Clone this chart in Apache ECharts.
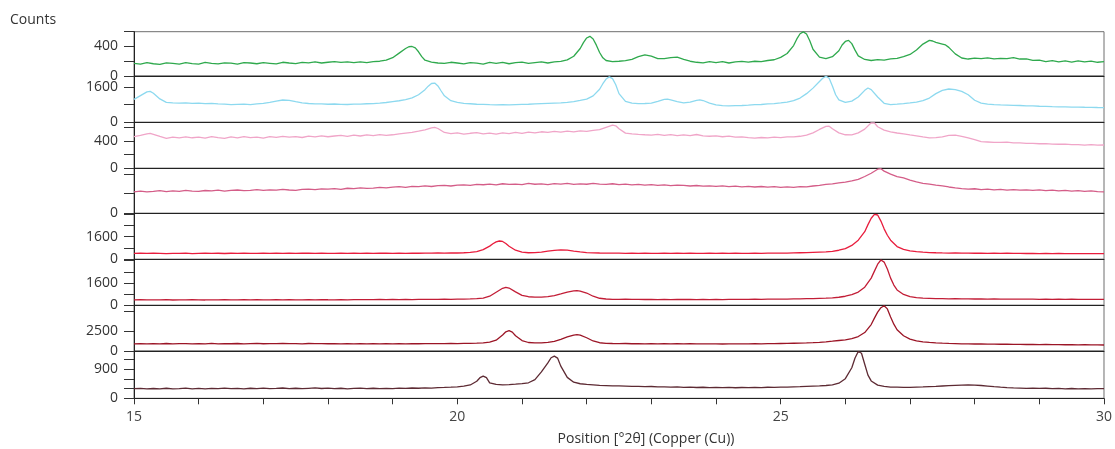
<!DOCTYPE html>
<html>
<head>
<meta charset="utf-8">
<script src="https://cdn.jsdelivr.net/npm/echarts@6/dist/echarts.min.js"></script>
<style>
  html, body { margin: 0; padding: 0; background: #fff; }
  #chart { width: 1115px; height: 449px; }
</style>
</head>
<body>
<div id="chart"></div>
<script>
// Stacked XRD patterns, Position [°2θ] vs Counts, one panel per scan (top to bottom).

const scanA = [[15.0,172],[15.1,160],[15.2,182],[15.3,166],[15.4,158],[15.5,178],[15.6,170],[15.7,162],[15.8,180],[15.9,168],[16.0,160],[16.1,184],[16.2,172],[16.3,164],[16.4,178],[16.5,174],[16.6,160],[16.7,182],[16.8,176],[16.9,166],[17.0,180],[17.1,172],[17.2,164],[17.3,186],[17.4,176],[17.5,168],[17.6,184],[17.7,178],[17.8,190],[17.9,176],[18.0,186],[18.1,196],[18.2,184],[18.3,192],[18.4,180],[18.5,192],[18.6,182],[18.7,194],[18.8,200],[18.9,216],[19.0,248],[19.1,310],[19.2,372],[19.25,396],[19.3,400],[19.35,380],[19.4,328],[19.45,262],[19.5,214],[19.6,188],[19.7,176],[19.8,170],[19.9,186],[20.0,176],[20.1,164],[20.2,182],[20.3,174],[20.4,162],[20.5,184],[20.6,172],[20.7,186],[20.8,166],[20.9,180],[21.0,188],[21.1,170],[21.2,182],[21.3,190],[21.4,176],[21.5,190],[21.6,198],[21.7,218],[21.8,268],[21.9,372],[21.95,452],[22.0,515],[22.05,537],[22.1,502],[22.15,418],[22.2,318],[22.25,246],[22.3,210],[22.4,194],[22.5,200],[22.6,208],[22.7,226],[22.8,262],[22.9,286],[23.0,268],[23.1,236],[23.2,234],[23.3,250],[23.4,255],[23.5,226],[23.6,200],[23.7,186],[23.8,178],[23.9,196],[24.0,182],[24.1,194],[24.2,176],[24.3,190],[24.4,198],[24.5,188],[24.6,200],[24.7,194],[24.8,210],[24.9,220],[25.0,252],[25.1,305],[25.2,412],[25.25,502],[25.3,572],[25.35,598],[25.4,568],[25.45,478],[25.5,362],[25.6,256],[25.7,236],[25.8,262],[25.9,342],[25.95,420],[26.0,468],[26.05,482],[26.1,438],[26.15,350],[26.2,272],[26.3,224],[26.4,210],[26.5,222],[26.6,214],[26.7,232],[26.8,240],[26.9,264],[27.0,292],[27.1,352],[27.2,432],[27.3,482],[27.35,474],[27.4,456],[27.5,432],[27.55,420],[27.6,388],[27.7,300],[27.8,244],[27.9,230],[28.0,242],[28.1,234],[28.2,246],[28.3,232],[28.4,240],[28.5,234],[28.6,250],[28.7,230],[28.8,232],[28.9,212],[29.0,214],[29.1,194],[29.2,208],[29.3,190],[29.4,204],[29.5,188],[29.6,206],[29.7,190],[29.8,202],[29.9,186],[30.0,196]];

const scanB = [[15.0,1040],[15.1,1210],[15.2,1380],[15.25,1400],[15.3,1320],[15.4,1060],[15.5,905],[15.6,878],[15.7,866],[15.8,884],[15.9,858],[16.0,872],[16.1,850],[16.2,862],[16.3,838],[16.4,826],[16.5,800],[16.6,812],[16.7,822],[16.8,806],[16.9,832],[17.0,855],[17.1,905],[17.2,962],[17.3,1012],[17.4,998],[17.5,938],[17.6,882],[17.7,852],[17.8,838],[17.9,832],[18.0,818],[18.1,830],[18.2,816],[18.3,808],[18.4,822],[18.5,828],[18.6,842],[18.7,848],[18.8,872],[18.9,898],[19.0,942],[19.1,978],[19.2,1030],[19.3,1105],[19.4,1250],[19.5,1480],[19.55,1640],[19.6,1760],[19.65,1780],[19.7,1650],[19.75,1420],[19.8,1200],[19.9,982],[20.0,902],[20.1,858],[20.2,842],[20.3,818],[20.4,812],[20.5,798],[20.6,788],[20.7,802],[20.8,786],[20.9,800],[21.0,812],[21.1,818],[21.2,834],[21.3,848],[21.4,862],[21.5,872],[21.6,878],[21.7,902],[21.8,938],[21.9,992],[22.0,1050],[22.1,1200],[22.2,1500],[22.25,1750],[22.3,1960],[22.35,2060],[22.4,1980],[22.45,1700],[22.5,1300],[22.6,950],[22.7,872],[22.8,848],[22.9,852],[23.0,872],[23.1,952],[23.2,1040],[23.25,1050],[23.3,1018],[23.4,942],[23.5,880],[23.6,918],[23.7,998],[23.75,1020],[23.8,988],[23.9,872],[24.0,792],[24.1,752],[24.2,742],[24.3,752],[24.4,762],[24.5,778],[24.6,802],[24.7,808],[24.8,832],[24.9,848],[25.0,882],[25.1,918],[25.2,982],[25.3,1100],[25.4,1300],[25.5,1550],[25.6,1850],[25.65,2000],[25.7,2080],[25.75,2000],[25.8,1650],[25.85,1250],[25.9,1020],[26.0,900],[26.1,962],[26.2,1150],[26.3,1450],[26.35,1555],[26.4,1480],[26.5,1150],[26.6,862],[26.7,802],[26.8,822],[26.9,848],[27.0,882],[27.1,918],[27.2,982],[27.3,1100],[27.4,1300],[27.5,1450],[27.6,1510],[27.7,1480],[27.8,1400],[27.9,1250],[28.0,1000],[28.1,872],[28.2,828],[28.3,802],[28.4,788],[28.5,782],[28.6,768],[28.7,762],[28.8,748],[28.9,742],[29.0,728],[29.1,722],[29.2,708],[29.3,702],[29.4,698],[29.5,692],[29.6,688],[29.7,682],[29.8,678],[29.9,672],[30.0,668]];

const scanC = [[15.0,465],[15.1,482],[15.2,505],[15.25,513],[15.3,498],[15.4,468],[15.5,440],[15.6,458],[15.7,446],[15.8,462],[15.9,448],[16.0,457],[16.1,443],[16.2,466],[16.3,451],[16.4,438],[16.5,460],[16.6,446],[16.7,465],[16.8,449],[16.9,458],[17.0,442],[17.1,464],[17.2,453],[17.3,470],[17.4,456],[17.5,466],[17.6,452],[17.7,472],[17.8,460],[17.9,477],[18.0,463],[18.1,474],[18.2,482],[18.3,468],[18.4,487],[18.5,474],[18.6,492],[18.7,478],[18.8,495],[18.9,483],[19.0,492],[19.1,504],[19.2,516],[19.3,528],[19.4,546],[19.5,565],[19.6,594],[19.65,600],[19.7,584],[19.8,526],[19.9,508],[20.0,520],[20.1,503],[20.2,514],[20.3,522],[20.4,506],[20.5,516],[20.6,503],[20.7,520],[20.8,510],[20.9,527],[21.0,513],[21.1,532],[21.2,520],[21.3,536],[21.4,528],[21.5,542],[21.6,530],[21.7,546],[21.8,536],[21.9,550],[22.0,543],[22.1,556],[22.2,566],[22.3,602],[22.4,634],[22.45,624],[22.5,580],[22.6,516],[22.7,505],[22.8,498],[22.9,492],[23.0,488],[23.1,497],[23.2,483],[23.3,494],[23.4,481],[23.5,492],[23.6,480],[23.7,496],[23.8,476],[23.9,470],[24.0,477],[24.1,463],[24.2,472],[24.3,458],[24.4,460],[24.5,450],[24.6,444],[24.7,452],[24.8,446],[24.9,456],[25.0,450],[25.1,460],[25.2,461],[25.3,470],[25.4,486],[25.5,520],[25.6,570],[25.7,615],[25.75,618],[25.8,580],[25.9,520],[26.0,492],[26.1,490],[26.2,520],[26.3,575],[26.4,668],[26.45,665],[26.5,610],[26.6,560],[26.7,535],[26.8,518],[26.9,505],[27.0,490],[27.1,476],[27.2,460],[27.3,446],[27.4,450],[27.5,461],[27.6,482],[27.7,488],[27.8,470],[27.9,446],[28.0,420],[28.1,392],[28.2,386],[28.3,379],[28.4,380],[28.5,383],[28.6,374],[28.7,373],[28.8,366],[28.9,366],[29.0,360],[29.1,361],[29.2,354],[29.3,353],[29.4,356],[29.5,346],[29.6,346],[29.7,340],[29.8,347],[29.9,339],[30.0,342]];

const scanD = [[15.0,440],[15.1,452],[15.2,436],[15.3,448],[15.4,462],[15.5,445],[15.6,458],[15.7,450],[15.8,468],[15.9,455],[16.0,447],[16.1,466],[16.2,459],[16.3,472],[16.4,454],[16.5,468],[16.6,476],[16.7,462],[16.8,470],[16.9,484],[17.0,468],[17.1,480],[17.2,472],[17.3,490],[17.4,476],[17.5,470],[17.6,488],[17.7,495],[17.8,482],[17.9,500],[18.0,494],[18.1,506],[18.2,490],[18.3,512],[18.4,503],[18.5,520],[18.6,508],[18.7,515],[18.8,530],[18.9,518],[19.0,534],[19.1,544],[19.2,530],[19.3,552],[19.4,546],[19.5,560],[19.6,548],[19.7,566],[19.8,572],[19.9,558],[20.0,576],[20.1,582],[20.2,570],[20.3,590],[20.4,584],[20.5,596],[20.6,580],[20.7,604],[20.8,592],[20.9,598],[21.0,586],[21.1,610],[21.2,594],[21.3,602],[21.4,588],[21.5,606],[21.6,598],[21.7,612],[21.8,590],[21.9,600],[22.0,594],[22.1,610],[22.2,598],[22.3,592],[22.4,604],[22.5,588],[22.6,596],[22.7,582],[22.8,590],[22.9,578],[23.0,586],[23.1,572],[23.2,580],[23.3,566],[23.4,576],[23.5,570],[23.6,558],[23.7,568],[23.8,556],[23.9,562],[24.0,550],[24.1,560],[24.2,546],[24.3,555],[24.4,542],[24.5,552],[24.6,538],[24.7,548],[24.8,535],[24.9,544],[25.0,530],[25.1,542],[25.2,532],[25.3,546],[25.4,540],[25.5,558],[25.6,572],[25.7,590],[25.8,602],[25.9,622],[26.0,638],[26.1,662],[26.2,693],[26.3,752],[26.4,818],[26.5,902],[26.55,912],[26.6,862],[26.7,802],[26.8,752],[26.9,722],[27.0,678],[27.1,642],[27.2,613],[27.3,597],[27.4,578],[27.5,562],[27.6,538],[27.7,518],[27.8,505],[27.9,496],[28.0,502],[28.1,486],[28.2,494],[28.3,480],[28.4,490],[28.5,474],[28.6,486],[28.7,472],[28.8,480],[28.9,468],[29.0,478],[29.1,462],[29.2,474],[29.3,458],[29.4,468],[29.5,455],[29.6,464],[29.7,450],[29.8,458],[29.9,444],[30.0,440]];

const scanE = [[15.0,420],[15.1,432],[15.2,412],[15.3,428],[15.4,418],[15.5,402],[15.6,424],[15.7,414],[15.8,430],[15.9,408],[16.0,422],[16.1,436],[16.2,416],[16.3,426],[16.4,410],[16.5,428],[16.6,420],[16.7,434],[16.8,415],[16.9,425],[17.0,438],[17.1,418],[17.2,430],[17.3,422],[17.4,436],[17.5,416],[17.6,428],[17.7,434],[17.8,420],[17.9,432],[18.0,424],[18.1,414],[18.2,430],[18.3,422],[18.4,436],[18.5,418],[18.6,428],[18.7,420],[18.8,434],[18.9,426],[19.0,416],[19.1,432],[19.2,424],[19.3,438],[19.4,428],[19.5,440],[19.6,432],[19.7,446],[19.8,440],[19.9,452],[20.0,446],[20.1,462],[20.2,488],[20.3,540],[20.4,680],[20.5,930],[20.55,1100],[20.6,1230],[20.65,1293],[20.7,1260],[20.75,1120],[20.8,920],[20.9,640],[21.0,500],[21.1,462],[21.2,470],[21.3,505],[21.4,575],[21.5,635],[21.6,660],[21.7,642],[21.8,580],[21.9,522],[22.0,478],[22.1,458],[22.2,446],[22.3,438],[22.4,430],[22.5,436],[22.6,424],[22.7,432],[22.8,420],[22.9,430],[23.0,424],[23.1,416],[23.2,430],[23.3,420],[23.4,432],[23.5,418],[23.6,428],[23.7,422],[23.8,412],[23.9,426],[24.0,418],[24.1,430],[24.2,420],[24.3,428],[24.4,416],[24.5,424],[24.6,432],[24.7,422],[24.8,436],[24.9,430],[25.0,442],[25.1,438],[25.2,450],[25.3,462],[25.4,474],[25.5,490],[25.6,506],[25.7,522],[25.8,562],[25.9,640],[26.0,760],[26.1,980],[26.2,1350],[26.3,1950],[26.35,2450],[26.4,2900],[26.45,3180],[26.5,3130],[26.55,2700],[26.6,2150],[26.65,1700],[26.7,1350],[26.8,900],[26.9,702],[27.0,600],[27.1,540],[27.2,502],[27.3,478],[27.4,462],[27.5,450],[27.6,440],[27.7,446],[27.8,432],[27.9,440],[28.0,428],[28.1,436],[28.2,422],[28.3,430],[28.4,418],[28.5,426],[28.6,414],[28.7,422],[28.8,410],[28.9,418],[29.0,406],[29.1,414],[29.2,404],[29.3,410],[29.4,400],[29.5,408],[29.6,398],[29.7,404],[29.8,394],[29.9,400],[30.0,395]];

const scanF = [[15.0,390],[15.1,402],[15.2,384],[15.3,396],[15.4,388],[15.5,400],[15.6,380],[15.7,394],[15.8,386],[15.9,398],[16.0,390],[16.1,382],[16.2,396],[16.3,388],[16.4,402],[16.5,392],[16.6,384],[16.7,398],[16.8,390],[16.9,404],[17.0,394],[17.1,386],[17.2,400],[17.3,392],[17.4,406],[17.5,396],[17.6,388],[17.7,402],[17.8,394],[17.9,408],[18.0,398],[18.1,390],[18.2,404],[18.3,396],[18.4,410],[18.5,400],[18.6,412],[18.7,402],[18.8,416],[18.9,406],[19.0,418],[19.1,410],[19.2,422],[19.3,414],[19.4,426],[19.5,418],[19.6,430],[19.7,424],[19.8,436],[19.9,430],[20.0,442],[20.1,450],[20.2,462],[20.3,480],[20.4,520],[20.5,650],[20.6,940],[20.7,1220],[20.75,1290],[20.8,1240],[20.9,960],[21.0,710],[21.1,615],[21.2,585],[21.3,580],[21.4,618],[21.5,700],[21.6,820],[21.7,948],[21.8,1030],[21.85,1047],[21.9,1020],[22.0,880],[22.1,652],[22.2,505],[22.3,452],[22.4,432],[22.5,426],[22.6,434],[22.7,420],[22.8,428],[22.9,416],[23.0,424],[23.1,412],[23.2,422],[23.3,414],[23.4,426],[23.5,416],[23.6,424],[23.7,410],[23.8,420],[23.9,412],[24.0,424],[24.1,414],[24.2,426],[24.3,418],[24.4,430],[24.5,422],[24.6,434],[24.7,428],[24.8,440],[24.9,436],[25.0,448],[25.1,446],[25.2,458],[25.3,462],[25.4,476],[25.5,484],[25.6,498],[25.7,512],[25.8,535],[25.9,578],[26.0,650],[26.1,770],[26.2,950],[26.3,1300],[26.4,1950],[26.45,2450],[26.5,2950],[26.55,3250],[26.6,3100],[26.65,2600],[26.7,1950],[26.75,1450],[26.8,1100],[26.9,780],[27.0,620],[27.1,545],[27.2,512],[27.3,498],[27.4,484],[27.5,476],[27.6,466],[27.7,470],[27.8,458],[27.9,464],[28.0,452],[28.1,458],[28.2,446],[28.3,454],[28.4,442],[28.5,450],[28.6,438],[28.7,446],[28.8,436],[28.9,442],[29.0,432],[29.1,440],[29.2,430],[29.3,436],[29.4,428],[29.5,434],[29.6,426],[29.7,432],[29.8,424],[29.9,430],[30.0,426]];

const scanG = [[15.0,900],[15.1,930],[15.2,885],[15.3,915],[15.4,895],[15.5,935],[15.6,880],[15.7,910],[15.8,925],[15.9,890],[16.0,920],[16.1,900],[16.2,940],[16.3,895],[16.4,920],[16.5,905],[16.6,935],[16.7,900],[16.8,925],[16.9,945],[17.0,905],[17.1,930],[17.2,915],[17.3,940],[17.4,910],[17.5,925],[17.6,900],[17.7,935],[17.8,915],[17.9,930],[18.0,905],[18.1,925],[18.2,895],[18.3,915],[18.4,900],[18.5,925],[18.6,890],[18.7,915],[18.8,900],[18.9,920],[19.0,895],[19.1,915],[19.2,900],[19.3,925],[19.4,905],[19.5,920],[19.6,910],[19.7,930],[19.8,915],[19.9,935],[20.0,925],[20.1,945],[20.2,960],[20.3,985],[20.4,1020],[20.5,1100],[20.6,1350],[20.7,2000],[20.75,2400],[20.8,2530],[20.85,2350],[20.9,1900],[21.0,1300],[21.1,1060],[21.2,1010],[21.3,1025],[21.4,1080],[21.5,1200],[21.6,1450],[21.7,1750],[21.8,1990],[21.85,2030],[21.9,1980],[22.0,1650],[22.1,1250],[22.2,1030],[22.3,960],[22.4,935],[22.5,920],[22.6,935],[22.7,905],[22.8,925],[22.9,900],[23.0,920],[23.1,895],[23.2,915],[23.3,890],[23.4,910],[23.5,885],[23.6,905],[23.7,880],[23.8,900],[23.9,878],[24.0,895],[24.1,875],[24.2,892],[24.3,880],[24.4,898],[24.5,885],[24.6,905],[24.7,895],[24.8,915],[24.9,920],[25.0,935],[25.1,945],[25.2,965],[25.3,980],[25.4,1005],[25.5,1040],[25.6,1080],[25.7,1140],[25.8,1220],[25.9,1310],[26.0,1400],[26.1,1550],[26.2,1800],[26.3,2300],[26.4,3300],[26.45,4100],[26.5,4850],[26.55,5400],[26.6,5650],[26.65,5250],[26.7,4250],[26.75,3350],[26.8,2650],[26.9,1900],[27.0,1480],[27.1,1250],[27.2,1150],[27.3,1070],[27.4,1010],[27.5,970],[27.6,945],[27.7,925],[27.8,900],[27.9,890],[28.0,870],[28.1,880],[28.2,855],[28.3,865],[28.4,840],[28.5,850],[28.6,825],[28.7,835],[28.8,812],[28.9,822],[29.0,800],[29.1,810],[29.2,790],[29.3,798],[29.4,780],[29.5,790],[29.6,770],[29.7,778],[29.8,760],[29.9,768],[30.0,750]];

const scanH = [[15.0,298],[15.1,310],[15.2,292],[15.3,305],[15.4,296],[15.5,312],[15.6,290],[15.7,302],[15.8,315],[15.9,296],[16.0,306],[16.1,292],[16.2,310],[16.3,300],[16.4,318],[16.5,298],[16.6,308],[16.7,295],[16.8,312],[16.9,303],[17.0,316],[17.1,298],[17.2,308],[17.3,320],[17.4,302],[17.5,312],[17.6,298],[17.7,310],[17.8,322],[17.9,305],[18.0,315],[18.1,300],[18.2,312],[18.3,296],[18.4,308],[18.5,318],[18.6,300],[18.7,312],[18.8,298],[18.9,310],[19.0,302],[19.1,314],[19.2,306],[19.3,320],[19.4,312],[19.5,326],[19.6,318],[19.7,332],[19.8,338],[19.9,346],[20.0,358],[20.1,378],[20.2,415],[20.3,530],[20.35,640],[20.4,690],[20.45,640],[20.5,482],[20.6,432],[20.7,420],[20.8,428],[20.9,440],[21.0,455],[21.1,482],[21.2,580],[21.3,820],[21.4,1100],[21.45,1260],[21.5,1310],[21.55,1250],[21.6,1000],[21.7,650],[21.8,500],[21.9,452],[22.0,430],[22.1,418],[22.2,402],[22.3,396],[22.4,388],[22.5,384],[22.6,378],[22.7,370],[22.8,372],[22.9,362],[23.0,366],[23.1,354],[23.2,358],[23.3,346],[23.4,352],[23.5,340],[23.6,346],[23.7,336],[23.8,344],[23.9,332],[24.0,340],[24.1,330],[24.2,338],[24.3,328],[24.4,336],[24.5,330],[24.6,340],[24.7,334],[24.8,344],[24.9,340],[25.0,350],[25.1,346],[25.2,356],[25.3,360],[25.4,368],[25.5,376],[25.6,384],[25.7,398],[25.8,416],[25.9,470],[26.0,610],[26.1,950],[26.15,1250],[26.2,1455],[26.25,1400],[26.3,1060],[26.35,720],[26.4,540],[26.5,410],[26.6,372],[26.7,350],[26.8,345],[26.9,338],[27.0,342],[27.1,348],[27.2,352],[27.3,362],[27.4,370],[27.5,382],[27.6,394],[27.7,404],[27.8,412],[27.9,416],[28.0,410],[28.1,398],[28.2,380],[28.3,362],[28.4,346],[28.5,332],[28.6,322],[28.7,316],[28.8,310],[28.9,318],[29.0,306],[29.1,312],[29.2,300],[29.3,308],[29.4,296],[29.5,304],[29.6,292],[29.7,302],[29.8,294],[29.9,300],[30.0,298]];

// Per-panel count axes: upper limit, tick step and which tick values carry a label
const yMax = [600, 2100, 675, 920, 3250, 3300, 5700, 1470];
const yStep = [200, 800, 200, 400, 800, 800, 2500, 300];
const yLabelled = [[0, 400], [0, 1600], [0, 400], [0], [0, 1600], [0, 1600], [0, 2500], [0, 900]];
const xTickLabels = [15, 20, 25, 30];
const lineColors = ['#2fa94d', '#8dd9ef', '#f0a5c8', '#d45d88', '#e81d3d', '#c21d36', '#9b1526', '#5d2a33'];

const scans = [scanA, scanB, scanC, scanD, scanE, scanF, scanG, scanH];

// Panel edges (px) from top of first panel to the shared bottom axis
const edges = [31.7, 76, 122.3, 168.3, 213.3, 259.3, 305.3, 351, 398.3];
const FONT = '"Open Sans", "Noto Sans", sans-serif';
const last = scans.length - 1;

const grid = [], xAxis = [], yAxis = [], series = [];
scans.forEach((data, i) => {
  grid.push({
    left: 134, right: 11, top: edges[i], height: edges[i + 1] - edges[i],
    show: true, borderColor: '#6e6e6e', borderWidth: 1, containLabel: false
  });
  const isBottom = i === last;
  xAxis.push({
    type: 'value', gridIndex: i, min: 15, max: 30, interval: 1,
    axisLine: { show: true, onZero: false, lineStyle: { color: '#222', width: 1 } },
    axisTick: { show: isBottom, length: 6, lineStyle: { color: '#333' } },
    axisLabel: {
      show: isBottom, margin: 12, fontSize: 14, color: '#444', fontFamily: FONT,
      showMinLabel: true, showMaxLabel: true,
      formatter: v => (xTickLabels.includes(Math.round(v)) && Math.abs(v - Math.round(v)) < 1e-6) ? String(Math.round(v)) : ''
    },
    splitLine: { show: false }
  });
  const shown = yLabelled[i];
  yAxis.push({
    type: 'value', gridIndex: i, min: 0, max: yMax[i], interval: yStep[i],
    axisLine: { show: true, lineStyle: { color: '#222', width: 1 } },
    axisTick: { show: true, length: 10, lineStyle: { color: '#333' } },
    axisLabel: {
      margin: 16, fontSize: 14, color: '#333', fontFamily: FONT,
      showMinLabel: true, showMaxLabel: true,
      formatter: v => shown.includes(v) ? String(v) : ''
    },
    splitLine: { show: false }
  });
  series.push({
    type: 'line', xAxisIndex: i, yAxisIndex: i, data: data,
    showSymbol: false, symbol: 'none', silent: true, clip: true,
    lineStyle: { color: lineColors[i], width: 1.3 },
    itemStyle: { color: lineColors[i] }
  });
});

const chart = echarts.init(document.getElementById('chart'), null, { renderer: 'canvas' });
chart.setOption({
  animation: false,
  backgroundColor: '#ffffff',
  grid, xAxis, yAxis, series,
  graphic: [
    { type: 'text', left: 10, top: 13,
      style: { text: 'Counts', fontSize: 14, fill: '#333', fontFamily: FONT } },
    { type: 'text', x: 646, y: 439,
      style: { text: 'Position [°2θ] (Copper (Cu))', fontSize: 14, fill: '#333', fontFamily: FONT,
               textAlign: 'center', textVerticalAlign: 'middle' } }
  ]
});
</script>
</body>
</html>
